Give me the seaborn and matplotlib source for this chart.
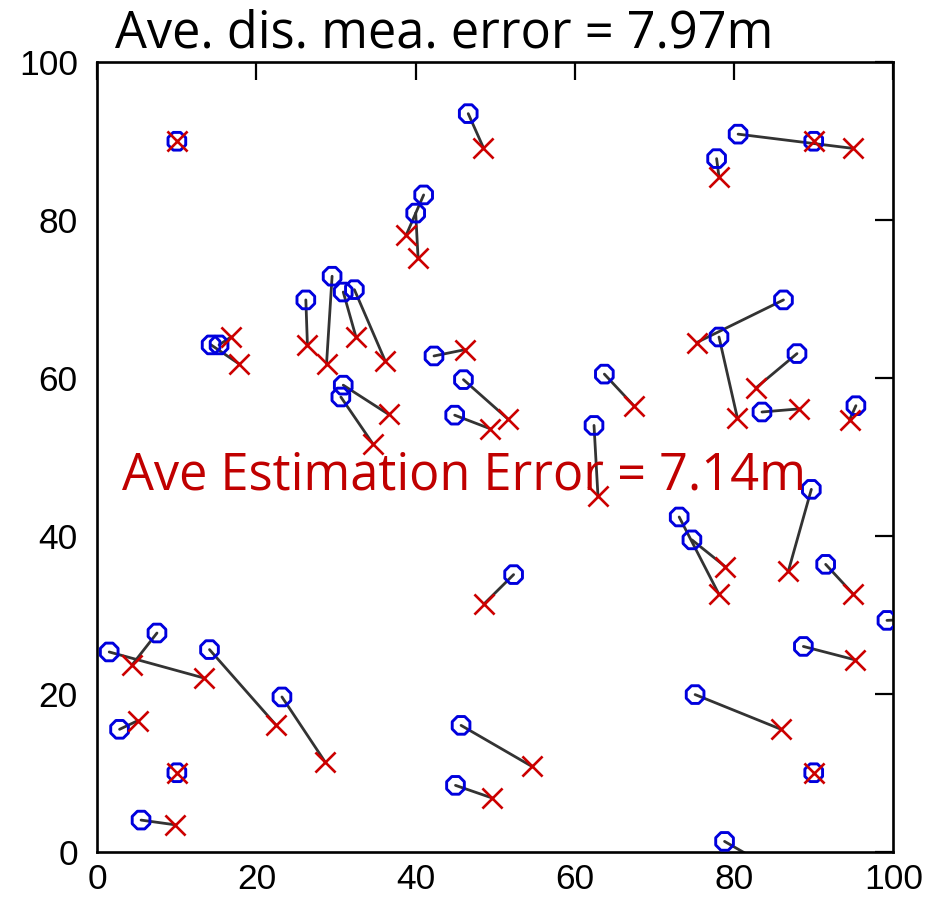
import matplotlib
matplotlib.use("Agg")
import matplotlib.pyplot as plt
import numpy as np
import pandas as pd
import seaborn as sns

# True node positions (m)
true_x = [10, 90, 10, 90, 46.6, 41.0, 40.0, 26.2, 29.5, 30.9, 32.3, 14.3, 15.3,
          42.3, 30.9, 30.6, 46.0, 44.9, 80.5, 77.8, 86.2, 78.1, 87.9, 83.5, 95.3,
          63.7, 62.4, 1.5, 7.5, 14.1, 23.2, 2.8, 5.5, 45.7, 45.0, 52.3, 89.7,
          73.1, 74.7, 91.5, 99.2, 88.7, 75.1, 78.8]
true_y = [90, 90, 10, 10, 93.5, 83.2, 80.9, 69.9, 72.9, 70.9, 71.2, 64.2, 64.2,
          62.8, 59.1, 57.6, 59.8, 55.3, 90.9, 87.8, 69.9, 65.2, 63.1, 55.7, 56.5,
          60.5, 54.0, 25.3, 27.7, 25.6, 19.6, 15.5, 4.0, 16.0, 8.4, 35.1, 45.9,
          42.4, 39.5, 36.4, 29.3, 26.0, 19.9, 1.3]

# Estimated node positions (m)
est_x = [10, 90, 10, 90, 48.5, 38.8, 40.3, 26.4, 28.8, 32.5, 36.2, 17.8, 16.8,
         46.2, 36.6, 34.6, 51.6, 49.3, 94.9, 78.1, 75.3, 80.4, 82.8, 88.2, 94.5,
         67.4, 62.9, 13.4, 4.4, 22.4, 28.6, 5.1, 9.8, 54.6, 49.6, 48.6, 86.8,
         78.1, 78.9, 94.9, 101.5, 95.2, 85.9, 84.5]
est_y = [90, 90, 10, 10, 89.2, 78.1, 75.2, 64.2, 61.8, 65.2, 62.1, 61.8, 65.2,
         63.6, 55.4, 51.7, 54.8, 53.6, 89.1, 85.5, 64.5, 55.0, 58.8, 56.1, 54.7,
         56.5, 45.0, 22.0, 23.7, 16.1, 11.4, 16.6, 3.4, 10.8, 6.8, 31.4, 35.5,
         32.6, 36.1, 32.7, 29.4, 24.3, 15.5, -2.0]

ticks = [0, 20, 40, 60, 80, 100]
title_text = "Ave. dis. mea. error = 7.97m"
est_text = "Ave Estimation Error = 7.14m"

node = np.arange(len(true_x))
true_df = pd.DataFrame({"node": node, "x": true_x, "y": true_y})
est_df = pd.DataFrame({"node": node, "x": est_x, "y": est_y})
seg_df = pd.concat([true_df.assign(kind="true"), est_df.assign(kind="est")])

sns.set_style("white")
plt.rcParams["font.family"] = ["Liberation Sans", "DejaVu Sans"]

fig = plt.figure(figsize=(9.29, 8.98), dpi=100)
ax = fig.add_axes([0.1047, 0.0516, 0.8569, 0.8790])

# error segments between true and estimated positions
sns.lineplot(data=seg_df, x="x", y="y", units="node", estimator=None,
             sort=False, color="#333333", linewidth=2.0, ax=ax, legend=False)

# true positions
sns.scatterplot(data=true_df, x="x", y="y", marker="8", s=190,
                facecolor="none", edgecolor="#0000DD", linewidth=2.1,
                ax=ax, legend=False, zorder=3)

# estimated positions
sns.scatterplot(data=est_df, x="x", y="y", marker="x", s=210,
                color="#CC0000", linewidth=1.9, ax=ax, legend=False, zorder=4)

ax.set_xlim(0, 100)
ax.set_ylim(0, 100)
ax.set_xticks(ticks)
ax.set_yticks(ticks)
ax.set_xlabel("")
ax.set_ylabel("")
ax.tick_params(axis="both", which="both", direction="in", length=13,
               width=1.6, color="black", labelsize=25.5,
               top=True, right=True, labelcolor="black")
ax.tick_params(axis="x", pad=8)
ax.tick_params(axis="y", pad=14)
for sp in ax.spines.values():
    sp.set_visible(True)
    sp.set_color("black")
    sp.set_linewidth(1.9)

ax.text(3.1, 45.9, est_text, color="#C00000", fontsize=36.4,
        family=["Open Sans", "DejaVu Sans"], va="baseline", ha="left",
        zorder=5)

fig.text(115 / 929, 1 - 47 / 898, title_text, color="black", fontsize=36.4,
         family=["Open Sans", "DejaVu Sans"], va="baseline", ha="left")

fig.savefig("out.png", dpi=100)
